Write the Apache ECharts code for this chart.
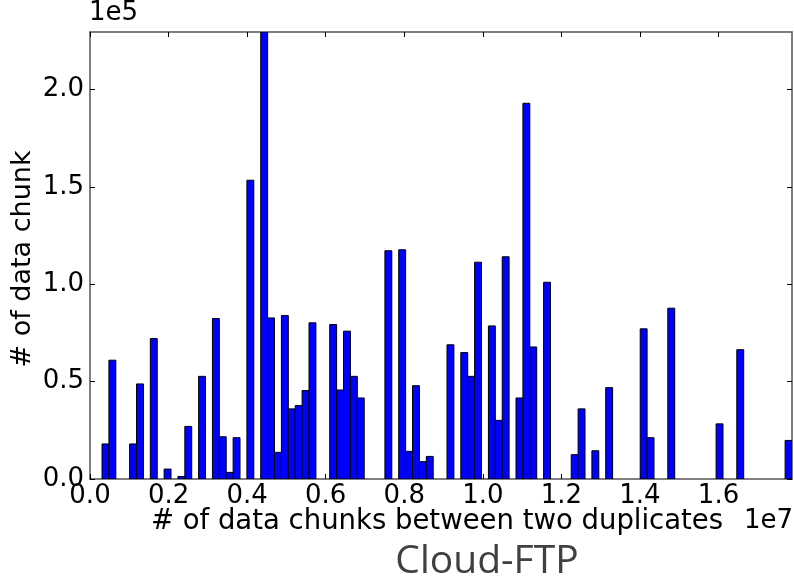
<!DOCTYPE html>
<html>
<head>
<meta charset="utf-8">
<script src="https://cdn.jsdelivr.net/npm/echarts@6/dist/echarts.min.js"></script>
<style>html,body{margin:0;padding:0;background:#fff}#c{width:794px;height:583px}</style>
</head>
<body>
<div id="c"></div>
<script>
// Histogram: 100 bins between binStart and binStart + 100*binWidth
const binStart = 306000;
const binWidth = 175640;
const counts = [
  18000, 61000, 0, 0, 18000, 48800, 0, 72100, 0, 5100,
  0, 1300, 27000, 0, 52700, 0, 82400, 21700, 3400, 21200,
  0, 153400, 0, 229500, 82700, 13700, 83900, 36000, 37700, 45400,
  80200, 0, 0, 79300, 45700, 75900, 52700, 41600, 0, 0,
  0, 117200, 0, 117700, 14200, 47900, 8900, 11600, 0, 0,
  68900, 0, 64900, 52700, 111300, 0, 78600, 30100, 114100, 0,
  41600, 192900, 67800, 0, 101000, 0, 0, 0, 12500, 36000,
  0, 14500, 0, 46900, 0, 0, 0, 0, 77100, 21200,
  0, 0, 87700, 0, 0, 0, 0, 0, 0, 28300,
  0, 0, 66400, 0, 0, 0, 0, 0, 0, 19800
];
const xMax = 17870000;
const yMax = 229500;
const xTicks = [0, 2000000, 4000000, 6000000, 8000000, 10000000, 12000000, 14000000, 16000000];
const yTicks = [0, 50000, 100000, 150000, 200000];

const data = [];
counts.forEach((c, i) => {
  if (c > 0) data.push([binStart + i * binWidth, binStart + (i + 1) * binWidth, c]);
});

const chart = echarts.init(document.getElementById('c'), null, {renderer: 'canvas'});
const font = 'DejaVu Sans';
const frame = {show: true, onZero: false, lineStyle: {color: '#555', width: 1.5}};
const xTick = {show: true, inside: true, length: 5, customValues: xTicks, lineStyle: {color: '#000', width: 1}};
const yTick = {show: true, inside: true, length: 5, customValues: yTicks, lineStyle: {color: '#000', width: 1}};

chart.setOption({
  animation: false,
  grid: {left: 90, right: 2, top: 32, bottom: 104},
  xAxis: [{
    type: 'value', min: 0, max: xMax,
    axisLine: frame, axisTick: xTick, splitLine: {show: false},
    axisLabel: {
      fontFamily: font, fontSize: 26, color: '#000', margin: 4,
      customValues: xTicks,
      formatter: v => (v / 1e7).toFixed(1)
    }
  }, {
    type: 'value', position: 'top', min: 0, max: xMax,
    axisLine: frame, axisTick: xTick, splitLine: {show: false}, axisLabel: {show: false}
  }],
  yAxis: [{
    type: 'value', min: 0, max: yMax,
    axisLine: frame, axisTick: yTick, splitLine: {show: false},
    axisLabel: {
      fontFamily: font, fontSize: 26, color: '#000', margin: 6,
      customValues: yTicks,
      formatter: v => (v / 1e5).toFixed(1)
    }
  }, {
    type: 'value', position: 'right', min: 0, max: yMax,
    axisLine: frame, axisTick: yTick, splitLine: {show: false}, axisLabel: {show: false}
  }],
  series: [{
    type: 'custom',
    clip: true,
    data: data,
    encode: {x: [0, 1], y: 2},
    renderItem: function (params, api) {
      const p0 = api.coord([api.value(0), 0]);
      const p1 = api.coord([api.value(1), api.value(2)]);
      return {
        type: 'rect',
        shape: {x: p0[0], y: p1[1], width: p1[0] - p0[0], height: p0[1] - p1[1]},
        style: {fill: '#0000ff', stroke: '#000', lineWidth: 1}
      };
    }
  }],
  graphic: [
    {type: 'text', left: 89, top: 0, style: {text: '1e5', font: '26px "DejaVu Sans"', fill: '#000'}},
    {type: 'text', x: 793, y: 521, style: {text: '1e7', font: '26px "DejaVu Sans"', fill: '#000', align: 'right', verticalAlign: 'middle'}},
    {type: 'text', x: 437, y: 522, style: {text: '# of data chunks between two duplicates', font: '27.5px "DejaVu Sans"', fill: '#000', align: 'center', verticalAlign: 'middle'}},
    {type: 'text', x: 23, y: 259, rotation: Math.PI / 2, style: {text: '# of data chunk', font: '27px "DejaVu Sans"', fill: '#000', align: 'center', verticalAlign: 'middle'}},
    {type: 'text', x: 487, y: 562, style: {text: 'Cloud-FTP', font: '39px "Open Sans"', fill: '#404040', align: 'center', verticalAlign: 'middle'}}
  ]
});
</script>
</body>
</html>
